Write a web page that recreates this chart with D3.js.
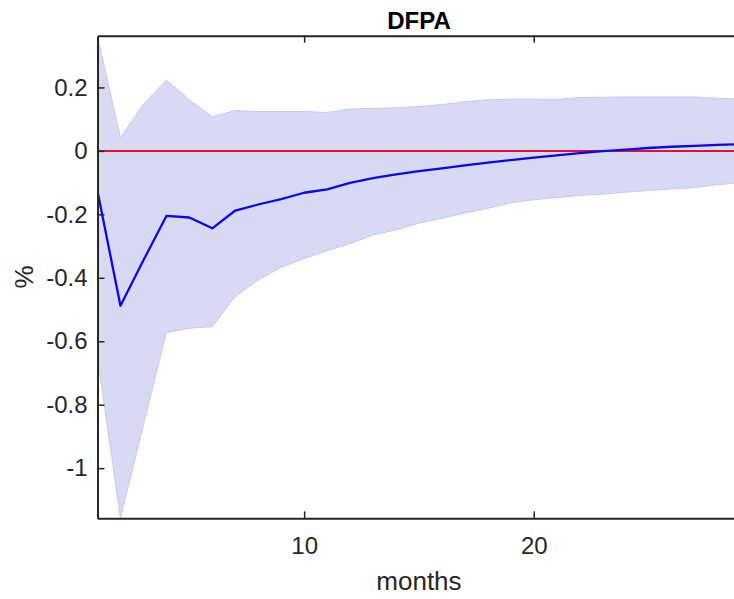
<!DOCTYPE html>
<html>
<head>
<meta charset="utf-8">
<script src="https://cdn.jsdelivr.net/npm/d3@7"></script>
<style>
  html, body { margin: 0; padding: 0; background: #fff; overflow: hidden; }
  svg { display: block; font-family: "Liberation Sans", Arial, Helvetica, sans-serif; }
</style>
</head>
<body>
<svg id="chart" width="734" height="599"></svg>
<script>
// ---- data ----
const months = d3.range(1, 30); // 1..29
const median = [-0.127, -0.488, -0.345, -0.205, -0.210, -0.244, -0.188, -0.169, -0.152, -0.132,
                -0.121, -0.101, -0.086, -0.074, -0.064, -0.055, -0.046, -0.037, -0.029, -0.021,
                -0.014, -0.007, -0.001, 0.004, 0.009, 0.013, 0.016, 0.019, 0.021];
const upper = [0.360, 0.042, 0.147, 0.223, 0.161, 0.108, 0.127, 0.124, 0.124, 0.124,
               0.121, 0.132, 0.134, 0.136, 0.140, 0.146, 0.155, 0.161, 0.163, 0.163,
               0.162, 0.168, 0.169, 0.170, 0.170, 0.170, 0.170, 0.166, 0.163];
const lower = [-0.650, -1.158, -0.864, -0.573, -0.559, -0.554, -0.459, -0.407, -0.367, -0.339,
               -0.315, -0.292, -0.265, -0.249, -0.228, -0.213, -0.196, -0.181, -0.164, -0.154,
               -0.147, -0.141, -0.136, -0.130, -0.125, -0.120, -0.116, -0.107, -0.100];
const xTicks = [10, 20];
const yTicks = [-1, -0.8, -0.6, -0.4, -0.2, 0, 0.2];
const yDomain = [-1.158, 0.363];
const xDomain = [1, 29];
const titleText = "DFPA";
const xLabel = "months";
const yLabel = "%";

// ---- layout ----
const svg = d3.select("#chart");
const pLeft = 97.5, pRight = 740.4, pTop = 35.7, pBottom = 518.3;
const axisColor = "#262626";

const x = d3.scaleLinear().domain(xDomain).range([pLeft, pRight]);
const y = d3.scaleLinear().domain(yDomain).range([pBottom, pTop]);

const data = months.map((m, i) => ({ m, med: median[i], up: upper[i], lo: lower[i] }));

svg.append("clipPath").attr("id", "clip")
  .append("rect").attr("x", pLeft).attr("y", pTop).attr("width", pRight - pLeft).attr("height", pBottom - pTop);

const plot = svg.append("g").attr("clip-path", "url(#clip)");

// confidence band
plot.append("path")
  .datum(data)
  .attr("d", d3.area().x(d => x(d.m)).y0(d => y(d.lo)).y1(d => y(d.up)))
  .attr("fill", "#d8d9f3")
  .attr("stroke", "#c6c9ef")
  .attr("stroke-width", 1);

// zero line
plot.append("path")
  .datum(xDomain)
  .attr("d", d3.line().x(d => x(d)).y(() => y(0)))
  .attr("stroke", "#e0102e")
  .attr("stroke-width", 2)
  .attr("fill", "none");

// median line
plot.append("path")
  .datum(data)
  .attr("d", d3.line().x(d => x(d.m)).y(d => y(d.med)))
  .attr("stroke", "#0808f0")
  .attr("stroke-width", 2.3)
  .attr("fill", "none")
  .attr("stroke-linejoin", "round");

// axes
const tickLen = 7;
const xAxisB = d3.axisBottom(x).tickValues(xTicks).tickSize(-tickLen).tickPadding(19).tickSizeOuter(0);
const xAxisT = d3.axisTop(x).tickValues(xTicks).tickSize(-tickLen).tickFormat("").tickSizeOuter(0);
const yAxisL = d3.axisLeft(y).tickValues(yTicks).tickSize(-tickLen).tickPadding(10).tickSizeOuter(0)
  .tickFormat(d => String(d));

function styleAxis(g) {
  g.select(".domain").attr("stroke", axisColor).attr("stroke-width", 2);
  g.selectAll(".tick line").attr("stroke", axisColor).attr("stroke-width", 1.5);
  g.selectAll(".tick text").attr("fill", axisColor).style("font-size", "24px")
    .style("font-family", '"Liberation Sans", Arial, Helvetica, sans-serif');
}

svg.append("g").attr("transform", `translate(0,${pBottom})`).call(xAxisB).call(styleAxis);
svg.append("g").attr("transform", `translate(0,${pTop})`).call(xAxisT).call(styleAxis);
svg.append("g").attr("transform", `translate(${pLeft},0)`).call(yAxisL).call(styleAxis);
svg.append("line").attr("x1", pRight).attr("x2", pRight).attr("y1", pTop).attr("y2", pBottom)
  .attr("stroke", axisColor).attr("stroke-width", 2);

// title & labels
svg.append("text")
  .attr("x", (pLeft + pRight) / 2).attr("y", 29)
  .attr("text-anchor", "middle")
  .style("font-size", "24px").style("font-weight", "bold").attr("fill", "#000")
  .text(titleText);

svg.append("text")
  .attr("x", (pLeft + pRight) / 2).attr("y", 590)
  .attr("text-anchor", "middle")
  .style("font-size", "26px").attr("fill", axisColor)
  .text(xLabel);

svg.append("text")
  .attr("transform", `translate(33,${(pTop + pBottom) / 2}) rotate(-90)`)
  .attr("text-anchor", "middle")
  .style("font-size", "26px").attr("fill", axisColor)
  .text(yLabel);
</script>
</body>
</html>
